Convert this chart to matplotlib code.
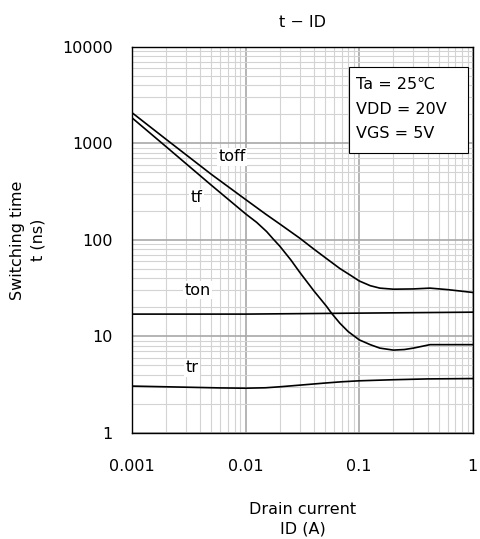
import matplotlib
matplotlib.use('Agg')
import matplotlib.pyplot as plt
from matplotlib.patches import Rectangle
from matplotlib.ticker import NullFormatter

plt.rcParams['font.family'] = ['DejaVu Sans', 'Noto Sans CJK JP']

# drain current (A) and switching times (ns)
id_toff = [0.001, 0.002, 0.005, 0.01, 0.015, 0.02, 0.03, 0.04, 0.0515, 0.0675, 0.085,
           0.1, 0.125, 0.152, 0.2, 0.3, 0.42, 0.6, 1]
toff = [2080, 1100, 477, 262, 185, 146, 104, 80, 64, 50.5, 42.5,
        37.5, 33.5, 31.6, 30.8, 31, 31.6, 30.5, 28.5]

id_tf = [0.001, 0.002, 0.005, 0.01, 0.0125, 0.0153, 0.0175, 0.02, 0.025, 0.03, 0.04, 0.0515,
         0.057, 0.0675, 0.08, 0.1, 0.125, 0.152, 0.2, 0.25, 0.3, 0.42, 0.6, 1]
tf = [1840, 922, 368, 186, 152, 122, 102, 86, 62, 46, 29.5, 20.5,
      17.4, 13.7, 11.2, 9.2, 8.2, 7.55, 7.2, 7.3, 7.55, 8.2, 8.2, 8.2]

id_ton = [0.001, 0.01, 0.1, 1]
ton = [17.0, 17.0, 17.4, 17.8]

id_tr = [0.001, 0.003, 0.006, 0.01, 0.015, 0.02, 0.03, 0.05, 0.07, 0.1, 0.2, 0.4, 1]
tr = [3.05, 2.97, 2.92, 2.9, 2.93, 3.0, 3.12, 3.28, 3.38, 3.46, 3.55, 3.62, 3.65]

fig = plt.figure(figsize=(4.8, 5.39), dpi=100)
ax = fig.add_axes([0.275, 0.197, 0.71, 0.716])

for x, y in [(id_toff, toff), (id_tf, tf), (id_ton, ton), (id_tr, tr)]:
    ax.plot(x, y, color='black', lw=1.2, zorder=3)

ax.set_xscale('log')
ax.set_yscale('log')
ax.set_xlim(0.001, 1)
ax.set_ylim(1, 10000)

ax.set_xticks([0.001, 0.01, 0.1, 1])
ax.set_xticklabels(['0.001', '0.01', '0.1', '1'])
ax.set_yticks([1, 10, 100, 1000, 10000])
ax.set_yticklabels(['1', '10', '100', '1000', '10000'])
ax.xaxis.set_minor_formatter(NullFormatter())
ax.yaxis.set_minor_formatter(NullFormatter())
ax.tick_params(which='both', length=0, labelsize=11.5)
ax.tick_params(axis='x', pad=19)
ax.tick_params(axis='y', pad=14)

ax.grid(which='major', color='#a8a8a8', lw=1.2)
ax.grid(which='minor', color='#d3d3d3', lw=0.8)
ax.set_axisbelow(True)
for s in ax.spines.values():
    s.set_color('black')
    s.set_linewidth(1.0)

lbl = dict(fontsize=11.5, ha='center', va='center', zorder=4,
           bbox=dict(facecolor='white', edgecolor='none', pad=1))
ax.text(0.0076, 725, 'toff', **lbl)
ax.text(0.0037, 272, 'tf', **lbl)
ax.text(0.0038, 30, 'ton', **lbl)
ax.text(0.0034, 4.7, 'tr', **lbl)

ax.add_patch(Rectangle((0.636, 0.725), 0.349, 0.223, transform=ax.transAxes,
                       facecolor='white', edgecolor='black', lw=0.8, zorder=5))
for yy, s in zip([0.902, 0.837, 0.775], ['Ta = 25℃', 'VDD = 20V', 'VGS = 5V']):
    ax.text(0.657, yy, s, transform=ax.transAxes, fontsize=11.5,
            ha='left', va='center', zorder=6)

ax.set_title('t − ID', fontsize=11.5, pad=14)
ax.set_xlabel('Drain current\nID (A)', fontsize=11.5, labelpad=20, linespacing=1.4)
ax.set_ylabel('Switching time\nt (ns)', fontsize=11.5, labelpad=12, linespacing=1.4)

fig.savefig('out.png', dpi=100)
